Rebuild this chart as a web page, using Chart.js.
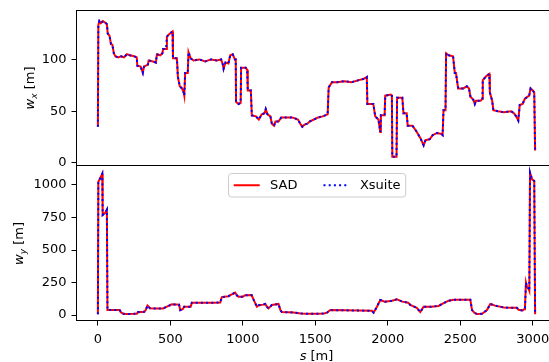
<!DOCTYPE html>
<html>
<head>
<meta charset="utf-8">
<script src="https://cdn.jsdelivr.net/npm/chart.js@4.4.0/dist/chart.umd.min.js"></script>
<style>
  html, body { margin: 0; padding: 0; background: #fff; overflow: hidden; width: 549px; height: 362px; }
  canvas { position: absolute; left: 0; }
  #topChart { top: 0; }
  #bottomChart { top: 160px; }
</style>
</head>
<body>
<canvas id="topChart" width="560" height="166"></canvas>
<canvas id="bottomChart" width="560" height="202"></canvas>
<script>
// s positions [m] and horizontal w function [m]
const sWx = [0,3,10,20,35,55,62,68,80,90,100,110,120,140,160,180,200,220,250,268,272,295,310,318,345,350,380,400,407,430,445,450,470,476,490,505,515,518,545,552,565,580,592,596,602,620,625,640,660,700,740,780,820,850,862,867,880,900,913,930,945,951,953,970,985,988,1020,1030,1034,1055,1062,1090,1110,1130,1150,1158,1170,1190,1200,1215,1225,1246,1265,1290,1340,1380,1400,1410,1425,1445,1460,1490,1520,1550,1585,1592,1615,1650,1700,1750,1800,1830,1855,1859,1900,1913,1935,1948,1952,1978,1982,2020,2028,2031,2060,2064,2100,2108,2130,2137,2170,2200,2225,2247,2260,2290,2310,2340,2370,2378,2384,2398,2402,2420,2450,2462,2470,2485,2520,2545,2560,2570,2590,2600,2608,2640,2652,2655,2680,2700,2704,2720,2728,2760,2800,2850,2870,2885,2900,2910,2930,2945,2975,2985,3000,3010,3016];
const wxSad = [35,133,137,135,137,135,134,125,123,115,114,106,103,102,103,102,105,104,103,102,94,93,87,93,95,99,98,97,105,104,106,110,110,122,124,126,127,101,101,83,74,72,68,65,87,87,107,101,99,100,98,100,99,100,95,91,97,96,104,105,100,100,59,57,58,92,92,90,70,70,46,45,42,47,48,52,47,45,38,36,40,40,44,44,44,42,37,35,37,38,40,42,44,45,47,73,78,78,79,78,80,81,83,57,57,45,42,30,46,46,65,66,65,6,6,63,63,48,48,36,36,30,24,17,22,23,27,29,28,27,51,51,106,104,103,87,87,72,72,74,72,64,61,57,60,60,62,80,84,86,68,60,51,50,49,50,48,45,41,56,57,62,65,72,70,68,12];
const wxXsuite = wxSad.slice(); // the two codes overlap in the plot

// s positions [m] and vertical w function [m]
const sWy = [0,3,15,30,33,50,62,66,100,150,160,175,200,250,269,275,320,330,342,360,400,450,487,510,560,568,585,595,640,648,700,800,844,855,900,930,947,960,970,1000,1016,1060,1074,1090,1097,1110,1140,1155,1165,1177,1200,1246,1260,1269,1350,1400,1442,1500,1560,1580,1603,1700,1800,1890,1902,1925,1948,1980,2030,2063,2100,2140,2155,2200,2224,2247,2300,2350,2385,2420,2454,2500,2569,2581,2600,2615,2650,2684,2707,2740,2800,2850,2890,2902,2930,2940,2946,2953,2960,2970,2976,2981,2995,3010,3016];
const wySad = [5,1025,1050,1085,770,785,810,38,38,38,20,10,8,9,10,22,25,38,72,52,50,51,70,82,80,38,45,64,64,95,95,95,97,138,145,162,172,150,140,141,152,154,118,80,64,75,80,85,65,51,77,85,35,23,20,12,10,10,12,18,38,36,35,32,18,64,115,103,110,121,103,95,77,55,23,64,64,70,92,110,118,118,118,38,15,8,10,38,85,72,58,56,56,40,35,45,56,249,215,205,187,1095,1043,1030,5];
const wyXsuite = wySad.slice();

const sTicks = [0, 500, 1000, 1500, 2000, 2500, 3000];
const wxTicks = [0, 50, 100];
const wyTicks = [0, 250, 500, 750, 1000];
const seriesNames = ['SAD', 'Xsuite'];

const FONT = "'DejaVu Sans', sans-serif";
const FS = 13;

function toPoints(xs, ys) {
    return xs.map((x, i) => ({ x: x, y: ys[i] }));
}

function makeDatasets(xs, sad, xsuite) {
    return [
        { label: seriesNames[0], data: toPoints(xs, sad), borderColor: 'red', borderWidth: 2, pointRadius: 0, tension: 0, order: 2 },
        { label: seriesNames[1], data: toPoints(xs, xsuite), borderColor: 'blue', borderWidth: 2, borderDash: [2, 3.2], pointRadius: 0, tension: 0, order: 1 }
    ];
}

// no extra room for overhanging tick labels, the axes box is placed by hand
function noOverhang(s) {
    s.paddingTop = 0; s.paddingBottom = 0; s.paddingLeft = 0; s.paddingRight = 0;
}

function yAxis(min, max, ticks) {
    return {
        type: 'linear', min: min, max: max,
        afterBuildTicks: s => { s.ticks = ticks.map(v => ({ value: v })); },
        afterFit: s => { s.width = 76; noOverhang(s); },
        grid: { display: true, drawOnChartArea: false, drawTicks: true, tickLength: 4.5, tickWidth: 1, tickColor: '#000' },
        border: { display: false },
        ticks: { color: '#000', font: { family: FONT, size: FS }, padding: 5, callback: v => String(v) }
    };
}

// axes box (matplotlib spines); right spine falls outside the picture
const framePlugin = {
    id: 'frame',
    afterDraw(chart, args, opts) {
        const a = chart.chartArea, ctx = chart.ctx;
        ctx.save();
        ctx.strokeStyle = '#000';
        ctx.lineWidth = 1;
        ctx.beginPath();
        if (opts.top) { ctx.moveTo(a.left, a.top + 0.5); ctx.lineTo(a.right, a.top + 0.5); }
        ctx.moveTo(a.left + 0.5, a.top); ctx.lineTo(a.left + 0.5, a.bottom);
        ctx.moveTo(a.left, a.bottom - 0.5); ctx.lineTo(a.right, a.bottom - 0.5);
        ctx.stroke();
        ctx.restore();
    }
};

function drawParts(ctx, parts, x0, y0) {
    let x = x0;
    parts.forEach(p => { ctx.font = p.f; ctx.fillText(p.t, x, y0 + p.dy); x += p.w; });
}

function measureParts(ctx, parts) {
    let w = 0;
    parts.forEach(p => { ctx.font = p.f; p.w = ctx.measureText(p.t).width; w += p.w; });
    return w;
}

// axis labels with math italics, like $w_x$ [m]
const titlePlugin = {
    id: 'mathTitles',
    afterDraw(chart, args, opts) {
        const ctx = chart.ctx, a = chart.chartArea;
        ctx.save();
        ctx.fillStyle = '#000';
        ctx.textBaseline = 'alphabetic';
        const yParts = [
            { t: 'w', f: `italic ${FS}px ${FONT}`, dy: 0 },
            { t: opts.sub, f: `italic ${FS * 0.7}px ${FONT}`, dy: 2.6 },
            { t: ' [m]', f: `${FS}px ${FONT}`, dy: 0 }
        ];
        const w = measureParts(ctx, yParts);
        ctx.save();
        ctx.translate(opts.yBase, (a.top + a.bottom) / 2);
        ctx.rotate(-Math.PI / 2);
        drawParts(ctx, yParts, -w / 2, 0);
        ctx.restore();
        if (opts.xBase) {
            const xParts = [
                { t: 's', f: `italic ${FS}px ${FONT}`, dy: 0 },
                { t: ' [m]', f: `${FS}px ${FONT}`, dy: 0 }
            ];
            const wx = measureParts(ctx, xParts);
            drawParts(ctx, xParts, (a.left + a.right) / 2 - wx / 2, opts.xBase);
        }
        ctx.restore();
    }
};

// legend drawn inside the axes, upper center
const legendPlugin = {
    id: 'innerLegend',
    afterDraw(chart, args, opts) {
        if (!opts.show) return;
        const ctx = chart.ctx, a = chart.chartArea;
        ctx.save();
        ctx.font = `${FS}px ${FONT}`;
        const pad = 0.4 * FS, handle = 2 * FS, tp = 0.8 * FS, colsp = 2 * FS;
        const widths = seriesNames.map(n => ctx.measureText(n).width);
        const W = 2 * pad + seriesNames.length * (handle + tp) + widths.reduce((s, v) => s + v, 0) + colsp * (seriesNames.length - 1);
        const H = 23.5;
        const x0 = Math.round((a.left + a.right) / 2 - W / 2), y0 = Math.round(a.top + 6.5);
        ctx.fillStyle = 'rgba(255,255,255,0.8)';
        ctx.strokeStyle = '#cccccc';
        ctx.lineWidth = 1;
        ctx.beginPath();
        ctx.roundRect(x0 + 0.5, y0 + 0.5, W, H, 3);
        ctx.fill();
        ctx.stroke();
        const cy = y0 + 0.5 + H / 2;
        let x = x0 + 0.5 + pad;
        chart.data.datasets.forEach((ds, i) => {
            ctx.strokeStyle = ds.borderColor;
            ctx.lineWidth = ds.borderWidth;
            ctx.setLineDash(ds.borderDash || []);
            ctx.beginPath();
            ctx.moveTo(x, cy);
            ctx.lineTo(x + handle, cy);
            ctx.stroke();
            ctx.setLineDash([]);
            ctx.fillStyle = '#000';
            ctx.textBaseline = 'middle';
            ctx.fillText(ds.label, x + handle + tp, cy);
            x += handle + tp + widths[i] + colsp;
        });
        ctx.restore();
    }
};

const commonX = { type: 'linear', min: -151, max: 3167 };

new Chart(document.getElementById('topChart'), {
    type: 'line',
    data: { datasets: makeDatasets(sWx, wxSad, wxXsuite) },
    options: {
        responsive: false,
        animation: false,
        events: [],
        layout: { padding: { left: 0, right: 3, top: 10, bottom: 0 } },
        scales: {
            x: Object.assign({}, commonX, { display: false, afterFit: noOverhang }),
            y: yAxis(-2.9, 147.7, wxTicks)
        },
        plugins: {
            legend: { display: false },
            tooltip: { enabled: false },
            frame: { top: true },
            mathTitles: { sub: 'x', yBase: 34 },
            innerLegend: { show: false }
        }
    },
    plugins: [framePlugin, titlePlugin, legendPlugin]
});

new Chart(document.getElementById('bottomChart'), {
    type: 'line',
    data: { datasets: makeDatasets(sWy, wySad, wyXsuite) },
    options: {
        responsive: false,
        animation: false,
        events: [],
        layout: { padding: { left: 0, right: 3, top: 6, bottom: 0 } },
        scales: {
            x: Object.assign({}, commonX, {
                afterBuildTicks: s => { s.ticks = sTicks.map(v => ({ value: v })); },
                afterFit: s => { s.height = 41; noOverhang(s); },
                grid: { display: true, drawOnChartArea: false, drawTicks: true, tickLength: 4.5, tickWidth: 1, tickColor: '#000' },
                border: { display: false },
                ticks: { color: '#000', font: { family: FONT, size: FS }, padding: 6.5, maxRotation: 0, autoSkip: false, callback: v => String(v) }
            }),
            y: yAxis(-46, 1146, wyTicks)
        },
        plugins: {
            legend: { display: false },
            tooltip: { enabled: false },
            frame: { top: false },
            mathTitles: { sub: 'y', yBase: 23, xBase: 199.5 },
            innerLegend: { show: true }
        }
    },
    plugins: [framePlugin, titlePlugin, legendPlugin]
});
</script>
</body>
</html>
